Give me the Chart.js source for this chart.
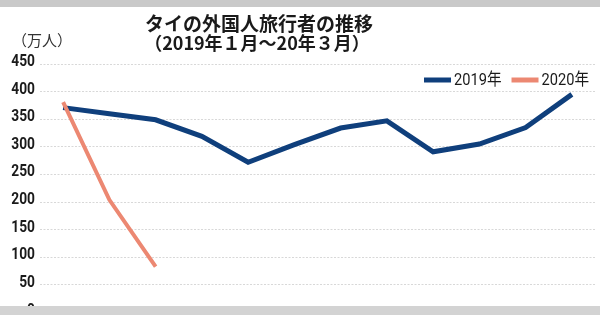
<!DOCTYPE html>
<html>
<head>
<meta charset="utf-8">
<script src="https://cdn.jsdelivr.net/npm/chart.js@4/dist/chart.umd.min.js"></script>
<style>
  html, body { margin: 0; padding: 0; background: #fff; }
  #wrap { width: 600px; height: 315px; position: relative; }
</style>
</head>
<body>
<div id="wrap"><canvas id="visitorChart"></canvas></div>
<script>
/* Thai foreign visitor arrivals, Jan 2019 – Mar 2020 (unit: 10k people) */
var months     = ['1月', '2月', '3月', '4月', '5月', '6月', '7月', '8月', '9月', '10月', '11月', '12月'];
var visits2019 = [371, 360, 349, 319, 272, 304, 334, 347, 291, 305, 335, 395];
var visits2020 = [381, 204, 83, null, null, null, null, null, null, null, null, null];
var yTicks     = [0, 50, 100, 150, 200, 250, 300, 350, 400, 450];

var NUM = 'Roboto, "Noto Sans CJK JP", sans-serif';
var JP  = '"Noto Sans CJK JP", sans-serif';
var SQUEEZE = 0.86;   // the source uses a condensed face; squash Roboto to match

var COLORS = {
  navy:   '#0f3f7c',
  salmon: '#ec8872',
  grid:   '#d8d8d8',
  text:   '#1a1a1a',
  band:   '#d3d3d3',
};

// draw text squeezed horizontally, anchored at its right or left edge
function narrowText(ctx, text, x, y, align) {
  var w = ctx.measureText(text).width * SQUEEZE;
  var left = align === 'right' ? x - w : x;
  ctx.save();
  ctx.translate(left, y);
  ctx.scale(SQUEEZE, 1);
  ctx.textAlign = 'left';
  ctx.fillText(text, 0, 0);
  ctx.restore();
  return w;
}

// Title, unit label, y tick labels, in-plot legend and the grey frame bands
var decorPlugin = {
  id: 'decor',
  afterDraw: function (chart) {
    var ctx = chart.ctx;
    var yScale = chart.scales.y;
    ctx.save();

    ctx.fillStyle = COLORS.text;
    ctx.textAlign = 'center';
    ctx.textBaseline = 'middle';
    ctx.font = 'bold 19px ' + JP;
    ctx.fillText('タイの外国人旅行者の推移', 259, 24);
    ctx.font = 'bold 18px ' + JP;
    ctx.fillText('（2019年１月～20年３月）', 257, 43);

    ctx.textAlign = 'left';
    ctx.font = '15px ' + JP;
    ctx.fillStyle = '#333';
    ctx.fillText('（万人）', 12, 40);

    // y tick labels, placed by the scale
    ctx.font = 'bold 16px ' + NUM;
    ctx.fillStyle = COLORS.text;
    yTicks.forEach(function (v) {
      narrowText(ctx, String(v), yScale.right - 5, yScale.getPixelForValue(v) - 2, 'right');
    });

    // legend, laid out from the right edge
    ctx.font = '17px ' + NUM;
    var y = 80, right = 589, swatch = 27, gap = 3, itemGap = 10;
    var x = right;
    for (var i = chart.data.datasets.length - 1; i >= 0; i--) {
      var ds = chart.data.datasets[i];
      var w = ctx.measureText(ds.label).width * SQUEEZE;
      var tx = x - w;
      ctx.fillStyle = COLORS.text;
      narrowText(ctx, ds.label, tx, y + 1, 'left');
      ctx.strokeStyle = ds.borderColor;
      ctx.lineWidth = 5;
      ctx.beginPath();
      ctx.moveTo(tx - gap - swatch, y);
      ctx.lineTo(tx - gap, y);
      ctx.stroke();
      x = tx - gap - swatch - itemGap;
    }

    // grey bands top and bottom
    ctx.fillStyle = '#c9c9c9';
    ctx.fillRect(0, 0, chart.width, 7);
    ctx.fillStyle = COLORS.band;
    ctx.fillRect(0, 306, chart.width, chart.height - 306);
    ctx.restore();
  }
};

new Chart(document.getElementById('visitorChart'), {
  type: 'line',
  data: {
    labels: months,
    datasets: [{
      label: '2019年',
      data: visits2019,
      borderColor: COLORS.navy,
      borderWidth: 5,
      pointRadius: 0,
      tension: 0,
      order: 1,
    }, {
      label: '2020年',
      data: visits2020,
      borderColor: COLORS.salmon,
      borderWidth: 4,
      pointRadius: 0,
      tension: 0,
      order: 0,
    }],
  },
  options: {
    responsive: true,
    maintainAspectRatio: false,
    animation: false,
    layout: { padding: { top: 64, right: 5, bottom: 2.5, left: 0 } },
    scales: {
      x: {
        display: false,
        offset: true,
      },
      y: {
        min: 0,
        max: 450,
        afterBuildTicks: function (scale) {
          scale.ticks = yTicks.map(function (v) { return { value: v }; });
        },
        afterFit: function (scale) {
          scale.width = 40;
          scale.paddingTop = 0;
          scale.paddingBottom = 0;
        },
        grid: { color: COLORS.grid, drawTicks: false },
        border: { display: false, dash: [2, 1.5] },
        ticks: { display: false },
      },
    },
    plugins: {
      legend: { display: false },
      tooltip: { enabled: false },
    },
  },
  plugins: [decorPlugin],
});
</script>
</body>
</html>
